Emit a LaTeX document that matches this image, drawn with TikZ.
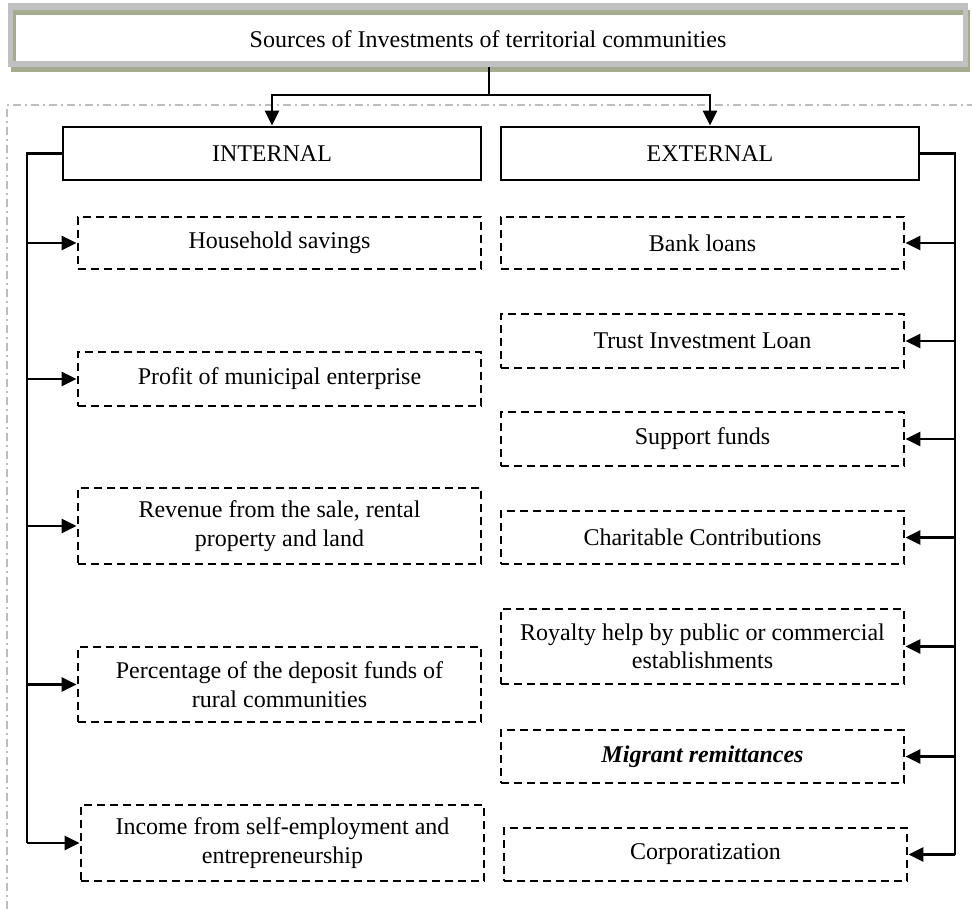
\documentclass[tikz,border=0pt]{standalone}
\usepackage{fontspec}
\setmainfont{Liberation Serif}
\usetikzlibrary{arrows.meta}
\definecolor{tgray}{HTML}{C0C0C0}
\definecolor{tolive}{HTML}{A5AB8E}
\definecolor{fgray}{HTML}{BDBDBD}
\begin{document}
\begin{tikzpicture}[x=1bp,y=-1bp,
  txt/.style={font=\fontsize{24bp}{28.5bp}\selectfont, align=center, inner sep=0pt},
  solidbox/.style={txt, draw=black, line width=2.7bp, minimum width=418bp, minimum height=53bp},
  dbox/.style={txt, draw=black, line width=2.7bp, dash pattern=on 8bp off 5bp, minimum width=403bp},
  conn/.style={line width=2.7bp},
  arr/.style={conn, -{Triangle[length=15bp,width=14bp]}},
  frame/.style={draw=fgray, line width=1.4bp, dash pattern=on 8bp off 4bp on 2bp off 4bp}]
\useasboundingbox (0,0) rectangle (972,909);
% dash-dot frame
\draw[frame] (7,909) -- (7,105) -- (972,105);
% title box decoration
\fill[tolive] (11,10) rectangle (970,72);
\fill[tgray] (8,3) rectangle (968,67);
\fill[tolive] (13,10) rectangle (963,15);
\fill[tolive] (13,10) rectangle (16,61);
\fill[white] (16,15) rectangle (963,61);
\node[txt, minimum width=960bp, minimum height=64bp, text height=24.8bp, text depth=0bp] (title) at (488,35) {Sources of Investments of territorial communities};
% level boxes
\node[solidbox] (int) at (272,153.5) {INTERNAL};
\node[solidbox] (ext) at (710,153.5) {EXTERNAL};
% internal sources
\node[dbox, minimum height=52bp] (hh) at (279.5,243) {Household savings};
\node[dbox, minimum height=54bp] (pr) at (279.5,379) {Profit of municipal enterprise};
\node[dbox, minimum height=76bp] (rv) at (279.5,526) {Revenue from the sale, rental\\property and land};
\node[dbox, minimum height=75bp] (pc) at (279.5,684.5) {Percentage of the deposit funds of\\rural communities};
\node[dbox, minimum height=76bp] (ic) at (282.5,843) {Income from self-employment and\\entrepreneurship};
% external sources
\node[dbox, minimum height=52bp] (bk) at (702.5,243) {Bank loans};
\node[dbox, minimum height=54bp] (tr) at (702.5,341) {Trust Investment Loan};
\node[dbox, minimum height=54bp] (sf) at (702.5,439) {Support funds};
\node[dbox, minimum height=53bp] (ch) at (702.5,537.5) {Charitable Contributions};
\node[dbox, minimum height=75bp] (ry) at (702.5,646.5) {Royalty help by public or commercial\\establishments};
\node[dbox, minimum height=53bp] (mg) at (702.5,756.5) {\textbf{\textit{Migrant remittances}}};
\node[dbox, minimum height=53bp] (cp) at (705.5,854.5) {Corporatization};
% top connectors
\coordinate (j) at (489,95);
\draw[conn] (title.south -| j) -- (j);
\draw[arr] (j) -| (int.north);
\draw[arr] (j) -| (ext.north);
% left bus
\coordinate (lb) at (27,153.5);
\draw[conn] (int.west) -- (lb) -- (lb |- ic.west);
\foreach \n in {hh,pr,rv,pc,ic}
  \draw[arr] (lb |- \n.west) -- (\n.west);
% right bus
\coordinate (rb) at (955,153.5);
\draw[conn] (ext.east) -- (rb) -- (rb |- cp.east);
\foreach \n in {bk,tr,sf,ch,ry,mg,cp}
  \draw[arr] (rb |- \n.east) -- (\n.east);
\end{tikzpicture}
\end{document}
